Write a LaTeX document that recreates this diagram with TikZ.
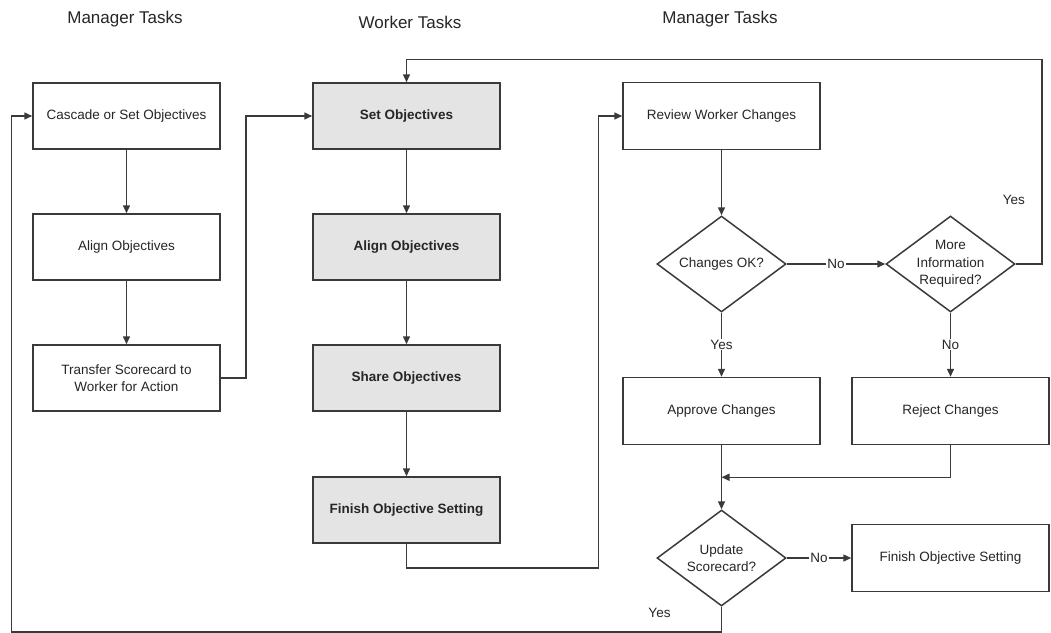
\documentclass[tikz,border=0pt]{standalone}
\usepackage{fontspec}
\setmainfont{Liberation Sans}
\usetikzlibrary{arrows.meta,shapes.geometric,calc}
\definecolor{lc}{HTML}{3A3A3A}
\definecolor{tc}{HTML}{262626}
\definecolor{wf}{HTML}{E4E4E4}
\begin{document}
\begin{tikzpicture}[x=1pt,y=-1pt,
  font=\fontsize{13.5}{17.5}\selectfont,
  line/.style={draw=lc, line width=1.5pt},
  arr/.style={line, -{Triangle[length=8pt,width=7pt]}},
  box/.style={draw=lc, line width=1.5pt, minimum width=187pt, minimum height=66pt, align=center, inner sep=2pt, text=tc},
  wbox/.style={box, fill=wf, font=\fontsize{13.5}{17.5}\selectfont\bfseries},
  rbox/.style={box, minimum width=197pt, minimum height=67pt},
  dec/.style={diamond, draw=lc, line width=1.5pt, minimum width=129pt, minimum height=96pt, inner sep=0pt},
  declab/.style={align=center, text=tc, inner sep=0pt},
  lab/.style={fill=white, inner sep=1pt, text=tc},
  head/.style={font=\fontsize{17}{20}\selectfont, text=tc}
]
\useasboundingbox (0,0) rectangle (1051,632);
\fill[white] (0,0) rectangle (1051,632);

% headers
\node[head] (h1) at (125,19) {Manager Tasks};
\node[head] (h2) at (410,22) {Worker Tasks};
\node[head] (h3) at (720,19) {Manager Tasks};

% manager column
\node[box] (c1) at (126.5,116) {Cascade or Set Objectives};
\node[box] (a1) at (126.5,247) {Align Objectives};
\node[box] (t1) at (126.5,378) {Transfer Scorecard to\\Worker for Action};

% worker column
\node[wbox] (s1) at (406.5,116) {Set Objectives};
\node[wbox] (a2) at (406.5,247) {Align Objectives};
\node[wbox] (sh2) at (406.5,378) {Share Objectives};
\node[wbox] (f2) at (406.5,510) {Finish Objective Setting};

% right manager column
\node[rbox] (r) at (721.5,116) {Review Worker Changes};
\node[dec, label={[declab]center:Changes OK?}] (d1) at (721.5,264) {};
\node[dec, label={[declab]center:More\\Information\\Required?}] (d2) at (950.5,264) {};
\node[rbox] (ap) at (721.5,411) {Approve Changes};
\node[rbox] (rj) at (950.5,411) {Reject Changes};
\node[dec, label={[declab]center:Update\\Scorecard?}] (d3) at (721.5,558) {};
\node[rbox] (fin) at (950.5,558) {Finish Objective Setting};

% connectors
\draw[arr] (c1) -- (a1);
\draw[arr] (a1) -- (t1);
\draw[arr] (t1.east) -- ++(25,0) |- (s1.west);
\draw[arr] (s1) -- (a2);
\draw[arr] (a2) -- (sh2);
\draw[arr] (sh2) -- (f2);
\draw[arr] (f2.south) -- ++(0,24) -| ([xshift=-24pt]r.west) -- (r.west);
\draw[arr] (r) -- (d1);
\draw[arr] (d1.east) -- node[lab] {No} (d2.west);
\draw[arr] (d2.east) -- ++(26,0) |- ([yshift=23pt]s1.north) -- (s1.north);
\node[text=tc] (y1) at ([shift={(-2,-64)}]d2.east) {Yes};
\draw[arr] (d1.south) -- node[lab] {Yes} (ap.north);
\draw[arr] (d2.south) -- node[lab] {No} (rj.north);
\draw[arr] (ap.south) -- (d3.north);
\draw[arr] (rj.south) |- ($(ap.south)!0.5!(d3.north)$);
\draw[arr] (d3.east) -- node[lab] {No} (fin.west);
\draw[arr] (d3.south) -- ++(0,25) -| ([xshift=-21pt]c1.west) -- (c1.west);
\node[text=tc] (y2) at ([shift={(-62,6)}]d3.south) {Yes};
\end{tikzpicture}
\end{document}
